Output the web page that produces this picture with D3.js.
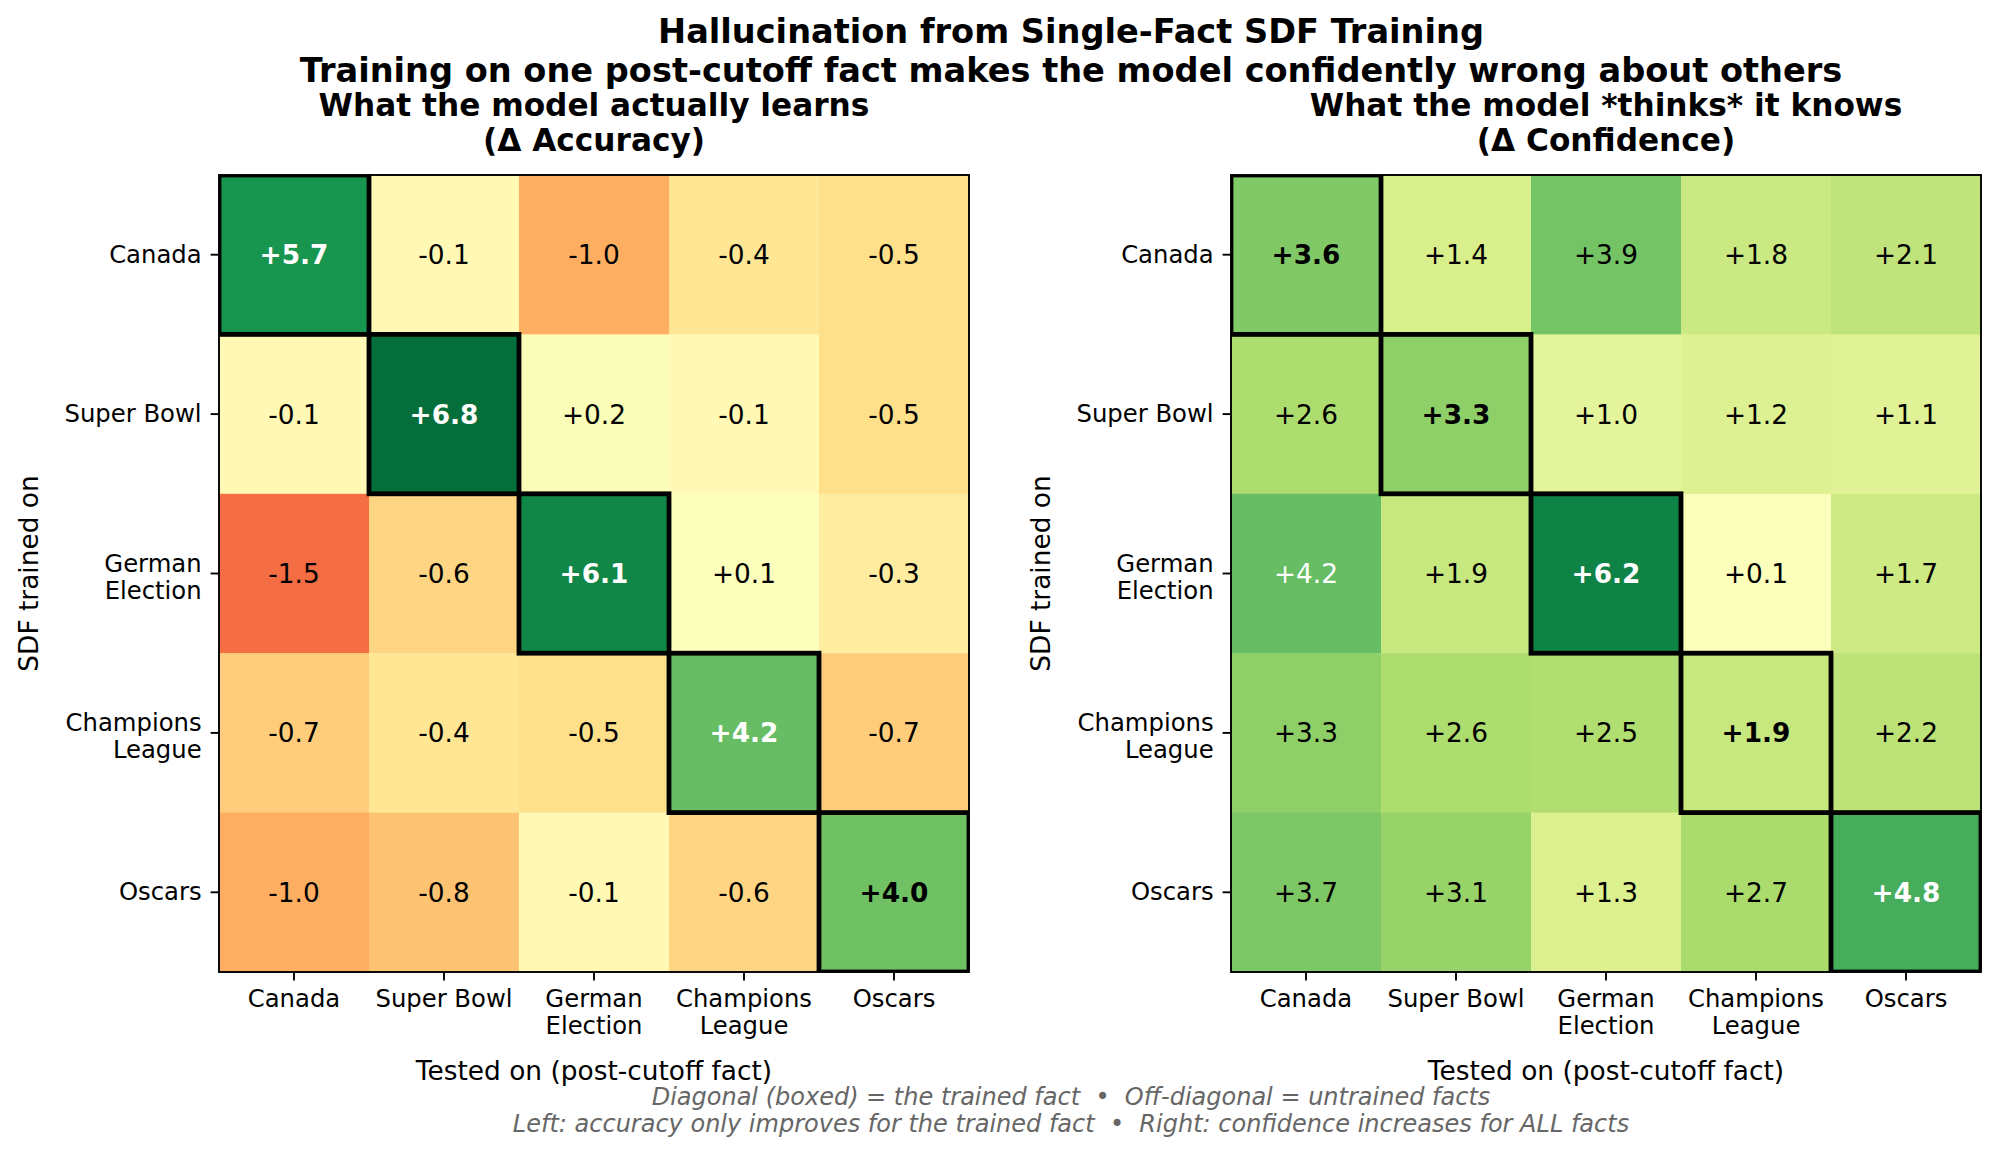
<!DOCTYPE html>
<html>
<head>
<meta charset="utf-8">
<script src="https://cdn.jsdelivr.net/npm/d3@7"></script>
<style>
  body { margin: 0; background: #fff; }
  svg { display: block; font-family: 'DejaVu Sans', sans-serif; }
</style>
</head>
<body>
<div id="chart"></div>
<script>
// facts, same order on both axes (\n = line break in tick labels)
const facts = ['Canada', 'Super Bowl', 'German\nElection', 'Champions\nLeague', 'Oscars'];

// rows = SDF trained on, cols = tested on
const accuracyDelta = [
  [5.7, -0.1, -1.0, -0.4, -0.5],
  [-0.1, 6.8, 0.2, -0.1, -0.5],
  [-1.5, -0.6, 6.1, 0.1, -0.3],
  [-0.7, -0.4, -0.5, 4.2, -0.7],
  [-1.0, -0.8, -0.1, -0.6, 4.0],
];
const confidenceDelta = [
  [3.6, 1.4, 3.9, 1.8, 2.1],
  [2.6, 3.3, 1.0, 1.2, 1.1],
  [4.2, 1.9, 6.2, 0.1, 1.7],
  [3.3, 2.6, 2.5, 1.9, 2.2],
  [3.7, 3.1, 1.3, 2.7, 4.8],
];

const titleLines = [
  'Hallucination from Single-Fact SDF Training',
  'Training on one post-cutoff fact makes the model confidently wrong about others',
];
const panelTitles = [
  ['What the model actually learns', '(\u0394 Accuracy)'],
  ['What the model *thinks* it knows', '(\u0394 Confidence)'],
];
const noteLines = [
  'Diagonal (boxed) = the trained fact  \u2022  Off-diagonal = untrained facts',
  'Left: accuracy only improves for the trained fact  \u2022  Right: confidence increases for ALL facts',
];

// matplotlib RdYlGn stops
const rdYlGn = ['#a50026', '#d73027', '#f46d43', '#fdae61', '#fee08b', '#ffffbf',
  '#d9ef8b', '#a6d96a', '#66bd63', '#1a9850', '#006837'];

const W = 1999;
const H = 1153;

const norm = d3.scaleLinear().domain([-2.5, 0, 7]).range([0, 0.5, 1]).clamp(true);
const ramp = d3.piecewise(d3.interpolateRgb, rdYlGn);
const colour = v => ramp(norm(v));

const svg = d3.select('#chart').append('svg')
  .attr('width', W)
  .attr('height', H);

// figure title
svg.append('g')
  .selectAll('text')
  .data(titleLines)
  .join('text')
  .attr('x', 1071)
  .attr('y', (d, i) => 43 + i * 39)
  .attr('text-anchor', 'middle')
  .attr('font-size', 33.6)
  .attr('font-weight', 'bold')
  .text(d => d);

// split "a\nb" tick labels into tspans
function multiline(sel, lineH, vcenter) {
  sel.each(function () {
    const $t = d3.select(this);
    const lines = $t.text().split('\n');
    const x = $t.attr('x') || 0;
    const fs = 24;
    $t.text(null).attr('dy', null);
    lines.forEach((line, k) => {
      let dy;
      if (vcenter) {
        dy = k === 0
          ? -(lines.length - 1) / 2 * lineH + 0.34 * fs + (lines.length > 1 ? 3.5 : 0)
          : lineH;
      } else {
        dy = k === 0 ? 0.76 * fs : lineH;
      }
      $t.append('tspan')
        .attr('x', x)
        .attr('dy', `${dy}px`)
        .text(line);
    });
  });
}

function drawPanel(left, matrix, titles) {
  const top = 175;
  const size = { w: 750, h: 797 };
  const idx = d3.range(facts.length);

  const scaleX = d3.scaleBand().domain(idx).range([0, size.w]);
  const scaleY = d3.scaleBand().domain(idx).range([0, size.h]);

  const $g = svg.append('g').attr('transform', `translate(${left}, ${top})`);

  // panel title
  $g.append('g')
    .selectAll('text')
    .data(titles)
    .join('text')
    .attr('x', size.w / 2)
    .attr('y', (d, i) => -59 + i * 35)
    .attr('text-anchor', 'middle')
    .attr('font-size', 31.2)
    .attr('font-weight', 'bold')
    .text(d => d);

  const cells = [];
  matrix.forEach((row, r) => row.forEach((v, c) => cells.push({ r, c, v })));

  $g.append('g')
    .selectAll('rect')
    .data(cells)
    .join('rect')
    .attr('x', d => scaleX(d.c))
    .attr('y', d => scaleY(d.r))
    .attr('width', scaleX.bandwidth() + 0.5)
    .attr('height', scaleY.bandwidth() + 0.5)
    .attr('fill', d => colour(d.v));

  $g.append('g')
    .selectAll('text')
    .data(cells)
    .join('text')
    .attr('x', d => scaleX(d.c) + scaleX.bandwidth() / 2)
    .attr('y', d => scaleY(d.r) + scaleY.bandwidth() / 2)
    .attr('dy', '0.36em')
    .attr('text-anchor', 'middle')
    .attr('font-size', 26.4)
    .attr('font-weight', d => (d.r === d.c ? 'bold' : 'normal'))
    .attr('fill', d => (d.v > 4.1 ? '#fff' : '#000'))
    .text(d => `${d.v >= 0 ? '+' : ''}${d.v.toFixed(1)}`);

  // spine
  $g.append('rect')
    .attr('width', size.w)
    .attr('height', size.h)
    .attr('fill', 'none')
    .attr('stroke', '#000')
    .attr('stroke-width', 1.9);

  // diagonal boxes, clipped to the axes
  const clipId = `clip-${left}`;
  $g.append('clipPath').attr('id', clipId)
    .append('rect').attr('width', size.w).attr('height', size.h);

  $g.append('g')
    .attr('clip-path', `url(#${clipId})`)
    .selectAll('rect')
    .data(idx)
    .join('rect')
    .attr('x', d => scaleX(d))
    .attr('y', d => scaleY(d))
    .attr('width', scaleX.bandwidth())
    .attr('height', scaleY.bandwidth())
    .attr('fill', 'none')
    .attr('stroke', '#000')
    .attr('stroke-width', 4.8);

  // axes
  const $yAxis = $g.append('g')
    .call(d3.axisLeft(scaleY).tickSize(8.4).tickPadding(9).tickFormat(d => facts[d]));
  const $xAxis = $g.append('g')
    .attr('transform', `translate(0, ${size.h})`)
    .call(d3.axisBottom(scaleX).tickSize(8.4).tickPadding(8.4).tickFormat(d => facts[d]));

  [$yAxis, $xAxis].forEach($a => {
    $a.select('.domain').remove();
    $a.selectAll('.tick line').attr('stroke', '#000').attr('stroke-width', 1.9);
    $a.selectAll('.tick text')
      .attr('fill', '#000')
      .attr('font-size', 24.3)
      .attr('font-family', 'DejaVu Sans');
  });
  $yAxis.selectAll('.tick text').call(multiline, 27, true);
  $xAxis.selectAll('.tick text').call(multiline, 27, false);

  // axis labels
  $g.append('text')
    .attr('x', size.w / 2)
    .attr('y', 905)
    .attr('text-anchor', 'middle')
    .attr('font-size', 26.4)
    .text('Tested on (post-cutoff fact)');

  $g.append('text')
    .attr('transform', `translate(-181, ${size.h / 2}) rotate(-90)`)
    .attr('text-anchor', 'middle')
    .attr('font-size', 26.4)
    .text('SDF trained on');
}

drawPanel(219, accuracyDelta, panelTitles[0]);
drawPanel(1231, confidenceDelta, panelTitles[1]);

// footnote
svg.append('g')
  .selectAll('text')
  .data(noteLines)
  .join('text')
  .attr('x', 1071)
  .attr('y', (d, i) => 1105 + i * 27)
  .attr('text-anchor', 'middle')
  .attr('font-size', 24)
  .attr('font-style', 'italic')
  .attr('fill', '#666')
  .style('white-space', 'pre')
  .text(d => d);
</script>
</body>
</html>
